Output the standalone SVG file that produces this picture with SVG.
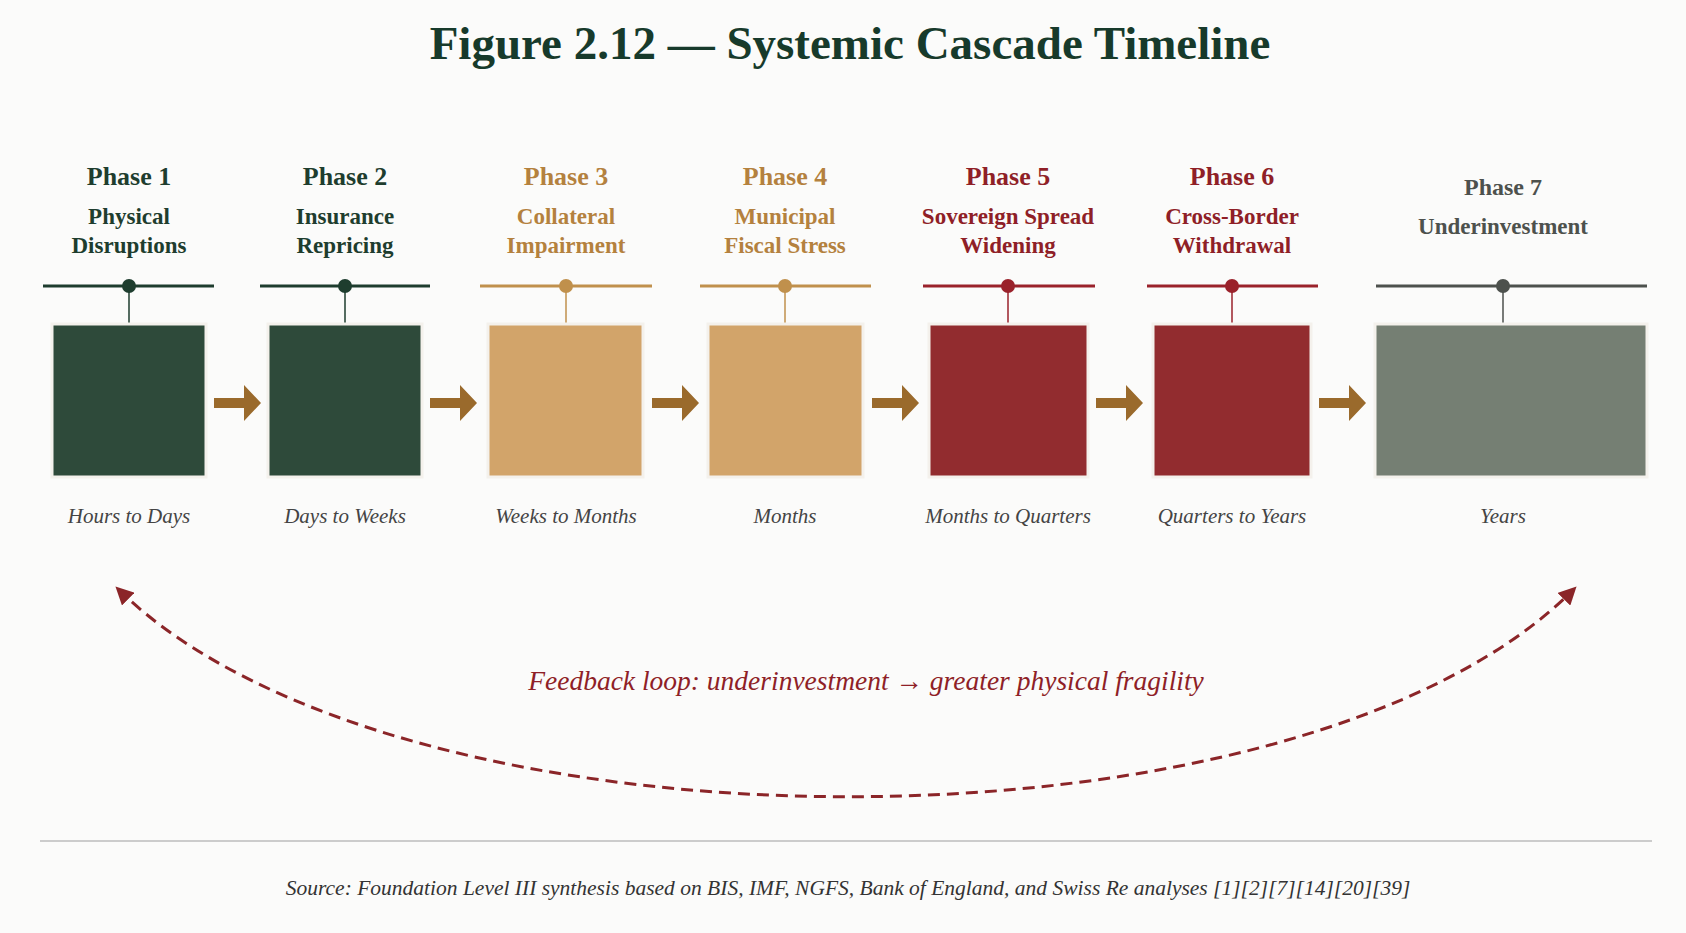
<svg xmlns="http://www.w3.org/2000/svg" width="1686" height="933" viewBox="0 0 1686 933">
<defs>
<style>
text{font-family:"Liberation Serif","DejaVu Serif",serif;text-anchor:middle}
.title{font-size:47px;font-weight:bold;fill:#173a2b}
.ph{font-size:26px;font-weight:bold}
.sub{font-size:23px;font-weight:bold}
.time{font-size:21px;font-style:italic;fill:#444}
.g{fill:#1e3d2e}.t{fill:#b4813e}.r{fill:#8f1f27}.s{fill:#4d514d}
.box{stroke:#f4f1ec;stroke-width:3}
.flow{fill:#9a6a2c}
</style>
<marker id="ah" viewBox="0 0 10 10" refX="8" refY="5" markerWidth="6" markerHeight="6" orient="auto-start-reverse" markerUnits="strokeWidth">
<path d="M0,0 L10,5 L0,10 z" fill="#8b2528"/>
</marker>
</defs>
<rect width="1686" height="933" fill="#fbfbfa"/>
<text class="title" x="850" y="59">Figure 2.12 — Systemic Cascade Timeline</text>

<g id="phase1">
<text class="ph g" x="129" y="185">Phase 1</text>
<text class="sub g" x="129" y="224">Physical</text><text class="sub g" x="129" y="253">Disruptions</text>
<line x1="43" y1="286" x2="214" y2="286" stroke="#1e3d2e" stroke-width="3"/>
<line x1="129" y1="286" x2="129" y2="324" stroke="#1e3d2e" stroke-width="1.5"/>
<circle cx="129" cy="286" r="7" fill="#1e3d2e"/>
<rect class="box" x="52" y="324" width="154" height="153" fill="#2e4a3a"/>
<text class="time" x="129" y="523">Hours to Days</text>
</g>
<g id="phase2">
<text class="ph g" x="345" y="185">Phase 2</text>
<text class="sub g" x="345" y="224">Insurance</text><text class="sub g" x="345" y="253">Repricing</text>
<line x1="260" y1="286" x2="430" y2="286" stroke="#1e3d2e" stroke-width="3"/>
<line x1="345" y1="286" x2="345" y2="324" stroke="#1e3d2e" stroke-width="1.5"/>
<circle cx="345" cy="286" r="7" fill="#1e3d2e"/>
<rect class="box" x="268" y="324" width="154" height="153" fill="#2e4a3a"/>
<text class="time" x="345" y="523">Days to Weeks</text>
</g>
<g id="phase3">
<text class="ph t" x="566" y="185">Phase 3</text>
<text class="sub t" x="566" y="224">Collateral</text><text class="sub t" x="566" y="253">Impairment</text>
<line x1="480" y1="286" x2="652" y2="286" stroke="#c0904c" stroke-width="3"/>
<line x1="566" y1="286" x2="566" y2="324" stroke="#c0904c" stroke-width="1.5"/>
<circle cx="566" cy="286" r="7" fill="#c0904c"/>
<rect class="box" x="488" y="324" width="155" height="153" fill="#d2a46a"/>
<text class="time" x="566" y="523">Weeks to Months</text>
</g>
<g id="phase4">
<text class="ph t" x="785" y="185">Phase 4</text>
<text class="sub t" x="785" y="224">Municipal</text><text class="sub t" x="785" y="253">Fiscal Stress</text>
<line x1="700" y1="286" x2="871" y2="286" stroke="#c0904c" stroke-width="3"/>
<line x1="785" y1="286" x2="785" y2="324" stroke="#c0904c" stroke-width="1.5"/>
<circle cx="785" cy="286" r="7" fill="#c0904c"/>
<rect class="box" x="708" y="324" width="155" height="153" fill="#d2a46a"/>
<text class="time" x="785" y="523">Months</text>
</g>
<g id="phase5">
<text class="ph r" x="1008" y="185">Phase 5</text>
<text class="sub r" x="1008" y="224">Sovereign Spread</text><text class="sub r" x="1008" y="253">Widening</text>
<line x1="923" y1="286" x2="1095" y2="286" stroke="#9a222b" stroke-width="3"/>
<line x1="1008" y1="286" x2="1008" y2="324" stroke="#9a222b" stroke-width="1.5"/>
<circle cx="1008" cy="286" r="7" fill="#9a222b"/>
<rect class="box" x="929" y="324" width="159" height="153" fill="#922c2f"/>
<text class="time" x="1008" y="523">Months to Quarters</text>
</g>
<g id="phase6">
<text class="ph r" x="1232" y="185">Phase 6</text>
<text class="sub r" x="1232" y="224">Cross-Border</text><text class="sub r" x="1232" y="253">Withdrawal</text>
<line x1="1147" y1="286" x2="1318" y2="286" stroke="#9a222b" stroke-width="3"/>
<line x1="1232" y1="286" x2="1232" y2="324" stroke="#9a222b" stroke-width="1.5"/>
<circle cx="1232" cy="286" r="7" fill="#9a222b"/>
<rect class="box" x="1153" y="324" width="158" height="153" fill="#922c2f"/>
<text class="time" x="1232" y="523">Quarters to Years</text>
</g>
<g id="phase7">
<text class="ph s" x="1503" y="195" style="font-size:24px">Phase 7</text>
<text class="sub s" x="1503" y="234">Underinvestment</text>
<line x1="1376" y1="286" x2="1647" y2="286" stroke="#4d514d" stroke-width="3"/>
<line x1="1503" y1="286" x2="1503" y2="324" stroke="#4d514d" stroke-width="1.5"/>
<circle cx="1503" cy="286" r="7" fill="#4d514d"/>
<rect class="box" x="1375" y="324" width="272" height="153" fill="#757f73"/>
<text class="time" x="1503" y="523">Years</text>
</g>

<g id="connectors">
<path class="flow" d="M214,398 h30 v-13 l17,18 l-17,18 v-13 h-30 z"/>
<path class="flow" d="M430,398 h30 v-13 l17,18 l-17,18 v-13 h-30 z"/>
<path class="flow" d="M652,398 h30 v-13 l17,18 l-17,18 v-13 h-30 z"/>
<path class="flow" d="M872,398 h30 v-13 l17,18 l-17,18 v-13 h-30 z"/>
<path class="flow" d="M1096,398 h30 v-13 l17,18 l-17,18 v-13 h-30 z"/>
<path class="flow" d="M1319,398 h30 v-13 l17,18 l-17,18 v-13 h-30 z"/>
<path d="M118,589 C400,866 1300,866 1574,589" fill="none" stroke="#8b2528" stroke-width="3" stroke-dasharray="12,7" marker-start="url(#ah)" marker-end="url(#ah)"/>
<text x="866" y="690" style="font-size:27.5px;font-style:italic;fill:#8f1f27">Feedback loop: underinvestment → greater physical fragility</text>
</g>
<line x1="40" y1="841" x2="1652" y2="841" stroke="#cccccc" stroke-width="2"/>
<text x="848" y="895" style="font-size:21.5px;font-style:italic;fill:#333">Source: Foundation Level III synthesis based on BIS, IMF, NGFS, Bank of England, and Swiss Re analyses [1][2][7][14][20][39]</text>
</svg>
